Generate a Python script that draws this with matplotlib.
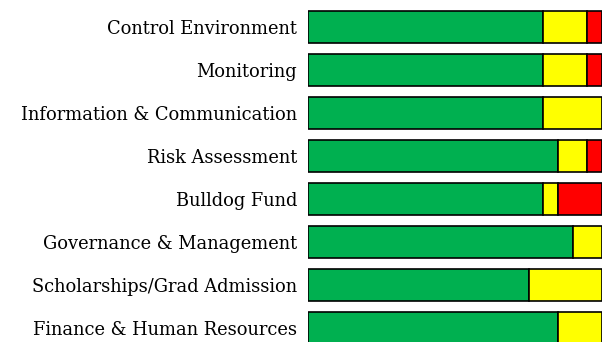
import matplotlib
matplotlib.use("Agg")
import matplotlib.pyplot as plt
import numpy as np

categories = [
    "Control Environment",
    "Monitoring",
    "Information & Communication",
    "Risk Assessment",
    "Bulldog Fund",
    "Governance & Management",
    "Scholarships/Grad Admission",
    "Finance & Human Resources",
]
green = [80, 80, 80, 85, 80, 90, 75, 85]
yellow = [15, 15, 20, 10, 5, 10, 25, 15]
red = [5, 5, 0, 5, 15, 0, 0, 0]

W, H = 610, 342
fig = plt.figure(figsize=(W / 100, H / 100), dpi=100)
ax = fig.add_axes([308 / W, 0, 294 / W, 1])

y = np.arange(len(categories))
bar_h = 31.5 / 43
left = np.zeros(len(categories))
for vals, col in [(green, "#00B050"), (yellow, "#FFFF00"), (red, "#FF0000")]:
    v = np.array(vals, dtype=float)
    mask = v > 0
    ax.barh(y[mask], v[mask], left=left[mask], height=bar_h, color=col,
            edgecolor="black", linewidth=1.2)
    left += v

ax.set_xlim(0, 100)
ax.set_ylim((H - 27) / 43, -27 / 43)
ax.set_yticks(y)
ax.set_yticklabels(categories, fontsize=12.9, family="DejaVu Serif")
ax.tick_params(axis="y", length=0, pad=8)
ax.set_xticks([])
for s in ax.spines.values():
    s.set_visible(False)

fig.savefig("out.png", dpi=100)
